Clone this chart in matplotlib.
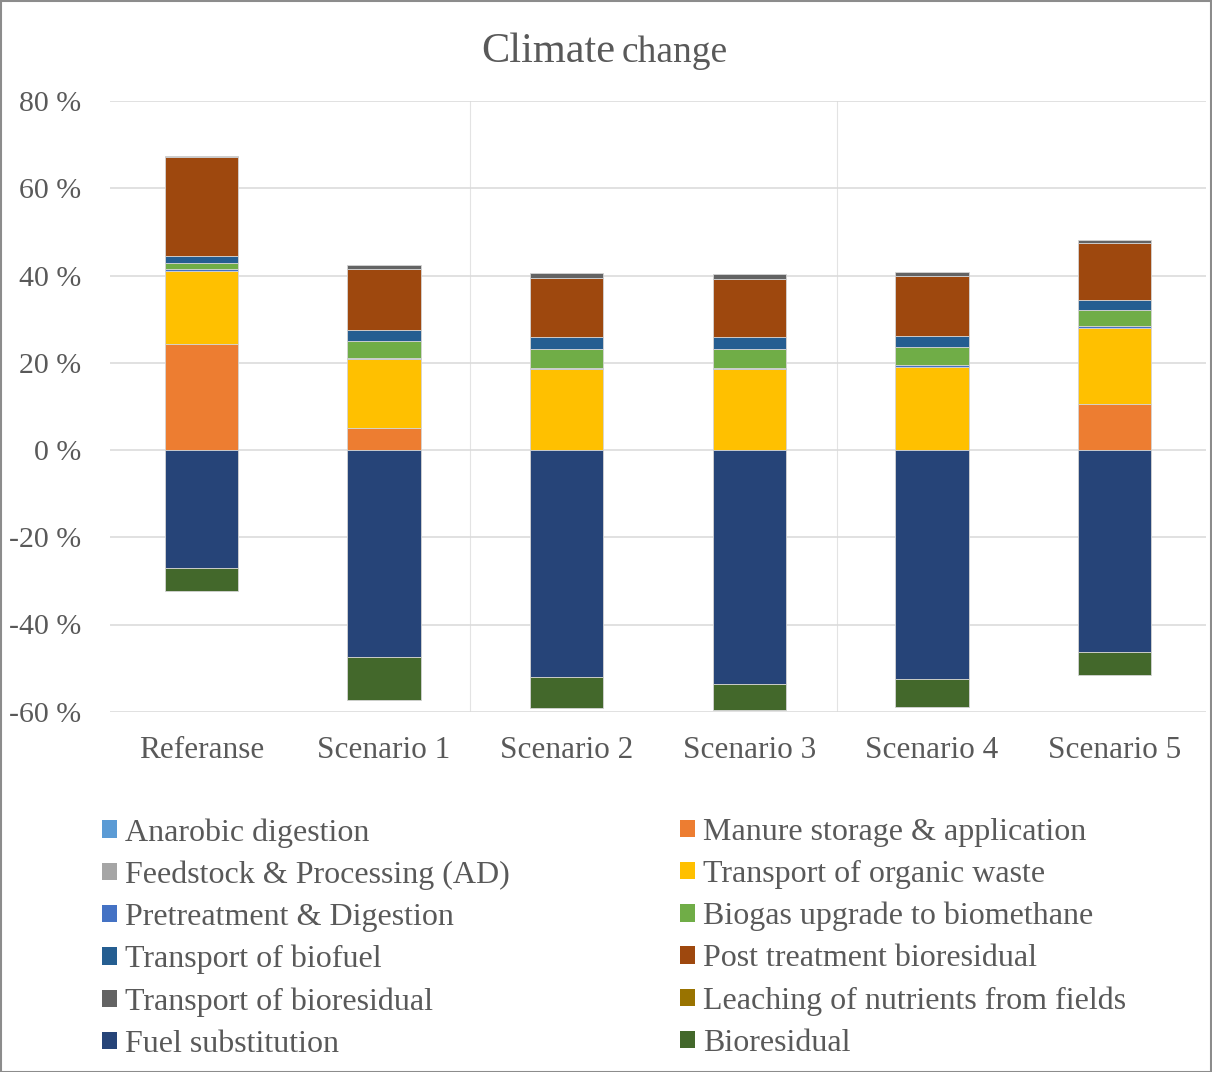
import matplotlib
matplotlib.use("Agg")
import matplotlib.pyplot as plt
from matplotlib.patches import Rectangle
from matplotlib.ticker import FixedLocator, FuncFormatter
import numpy as np

plt.rcParams['font.family'] = ['Liberation Serif', 'DejaVu Serif']

categories = ["Referanse", "Scenario 1", "Scenario 2", "Scenario 3", "Scenario 4", "Scenario 5"]

series_names = [
    "Anarobic digestion",
    "Manure storage & application",
    "Feedstock & Processing (AD)",
    "Transport of organic waste",
    "Pretreatment & Digestion",
    "Biogas upgrade to biomethane",
    "Transport of biofuel",
    "Post treatment bioresidual",
    "Transport of bioresidual",
    "Leaching of nutrients from fields",
    "Fuel substitution",
    "Bioresidual",
]

series_colors = [
    "#5B9BD5", "#ED7D31", "#A5A5A5", "#FFC000", "#4472C4", "#70AD47",
    "#255E91", "#9E480E", "#636363", "#997300", "#264478", "#43682B",
]

anarobic_digestion = [0.0, 0.0, 0.0, 0.0, 0.0, 0.0]
manure_storage = [24.3, 5.0, 0.0, 0.0, 0.0, 10.6]
feedstock_processing = [0.0, 0.0, 0.0, 0.0, 0.0, 0.0]
transport_organic_waste = [16.8, 15.9, 18.6, 18.5, 19.0, 17.4]
pretreatment_digestion = [0.3, 0.3, 0.3, 0.4, 0.4, 0.4]
biogas_upgrade = [1.5, 3.8, 4.3, 4.3, 4.1, 3.7]
transport_biofuel = [1.5, 2.4, 2.6, 2.8, 2.7, 2.3]
post_treatment = [22.7, 14.0, 13.7, 13.3, 13.6, 13.0]
transport_bioresidual = [0.4, 0.9, 1.1, 1.0, 1.0, 0.7]
leaching = [0.0, 0.0, 0.0, 0.0, 0.0, 0.0]
fuel_substitution = [-27.0, -47.5, -52.1, -53.6, -52.5, -46.3]
bioresidual = [-5.3, -9.9, -7.1, -5.9, -6.4, -5.3]

all_series = [
    anarobic_digestion, manure_storage, feedstock_processing, transport_organic_waste,
    pretreatment_digestion, biogas_upgrade, transport_biofuel, post_treatment,
    transport_bioresidual, leaching, fuel_substitution, bioresidual,
]

y_ticks = [-60, -40, -20, 0, 20, 40, 60, 80]

TEXT = "#595959"
W, H = 1212, 1072
fig = plt.figure(figsize=(W / 100, H / 100), dpi=100)
ax = fig.add_axes([110 / W, 1 - 711.75 / H, (1206 - 110) / W, (711.75 - 101) / H])

x = np.arange(len(categories))
pos_bottom = np.zeros(len(categories))
neg_bottom = np.zeros(len(categories))
for vals, color in zip(all_series, series_colors):
    v = np.array(vals, dtype=float)
    bottoms = np.where(v >= 0, pos_bottom, neg_bottom)
    lws = np.where(v != 0, 0.6, 0.0)
    ax.bar(x, v, width=0.4, bottom=bottoms, color=color, edgecolor="#d4d4d4",
           linewidth=lws, zorder=3)
    pos_bottom = pos_bottom + np.where(v > 0, v, 0)
    neg_bottom = neg_bottom + np.where(v < 0, v, 0)

ax.set_xlim(-0.5, len(categories) - 0.5)
ax.set_ylim(-60, 80)
ax.yaxis.set_major_locator(FixedLocator(y_ticks))
ax.yaxis.set_major_formatter(FuncFormatter(lambda v, p: f"{int(v)} %"))
ax.set_xticks(x)
ax.set_xticklabels(categories)
ax.tick_params(axis='both', length=0, colors=TEXT)
ax.tick_params(axis='y', labelsize=21.5, pad=21)
ax.tick_params(axis='x', labelsize=22.5, pad=17.5)
for s in ax.spines.values():
    s.set_visible(False)
ax.grid(axis='y', color="#D9D9D9", linewidth=1.1, zorder=0)
for xv in [1.47, 3.48]:
    ax.axvline(xv, color="#E3E3E3", linewidth=0.8, zorder=0)

# title
fig.text(615 / W, 1 - 62 / H, "Climate", ha='right', va='baseline', fontsize=30.5, color=TEXT)
fig.text(622 / W, 1 - 62 / H, "change", ha='left', va='baseline', fontsize=27, color=TEXT)

# legend, two columns (row-major order)
col1 = list(range(0, len(series_names), 2))
col2 = list(range(1, len(series_names), 2))
for idxs, xanchor in [(col1, 102 / W), (col2, 680 / W)]:
    handles = [Rectangle((0, 0), 1, 1, facecolor=series_colors[i], edgecolor='none') for i in idxs]
    labels = [series_names[i] for i in idxs]
    leg = fig.legend(handles, labels, loc='upper left', bbox_to_anchor=(xanchor, 1 - 818 / H),
                     frameon=False, fontsize=23, handlelength=0.47, handleheight=0.47,
                     handletextpad=0.25, labelspacing=0.405, borderpad=0, borderaxespad=0)
    for t in leg.get_texts():
        t.set_color(TEXT)

fig.add_artist(Rectangle((0.5 / W, 0.5 / H), 1 - 1.5 / W, 1 - 1.5 / H, transform=fig.transFigure,
                         fill=False, edgecolor="#8C8C8C", linewidth=1.5))

fig.savefig("out.png", dpi=100)
